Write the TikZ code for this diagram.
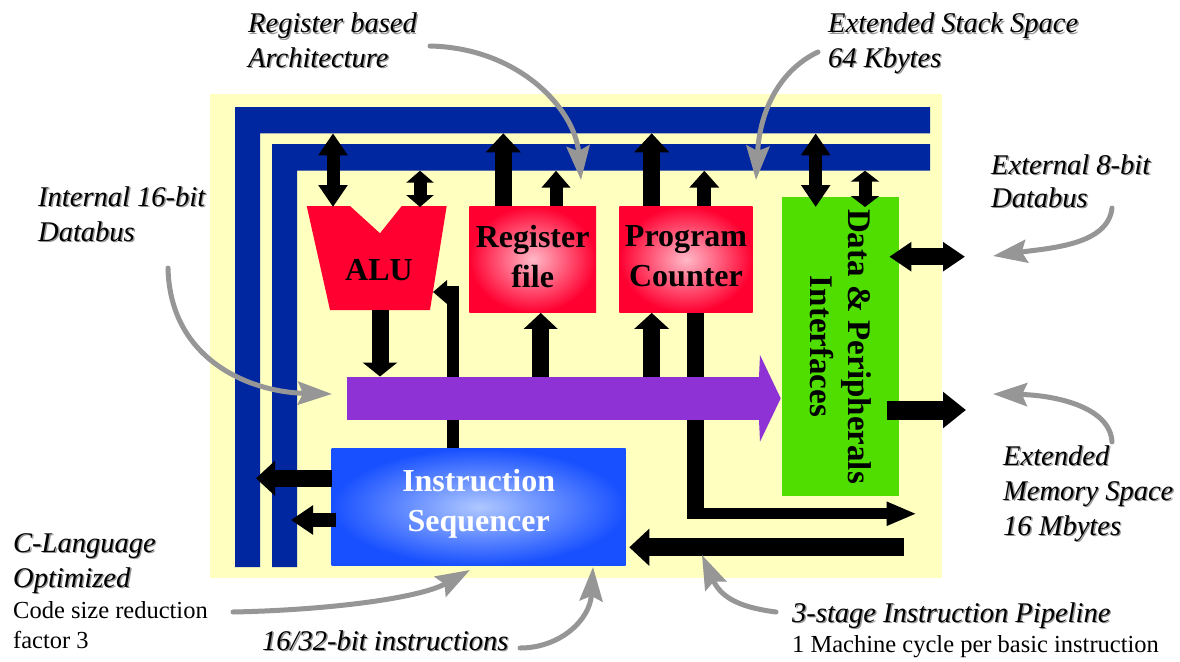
\documentclass[tikz,border=0pt]{standalone}
\usepackage{fontspec}
\setmainfont{Liberation Serif}
\usetikzlibrary{arrows.meta}

\definecolor{busblue}{RGB}{0,38,160}
\definecolor{chipyellow}{RGB}{255,255,192}
\definecolor{alured}{RGB}{255,0,48}
\definecolor{redlight}{RGB}{255,185,200}
\definecolor{iogreen}{RGB}{80,221,0}
\definecolor{buspurple}{RGB}{142,50,214}
\definecolor{seqblue}{RGB}{24,80,255}
\definecolor{seqlight}{RGB}{175,200,255}
\definecolor{callgray}{RGB}{150,150,150}
\definecolor{shadowgray}{RGB}{150,150,150}

% italic callout text with a soft drop shadow
\newcommand\shadowed[1]{\makebox[0pt][l]{\kern1.4pt\raisebox{-1.4pt}{\textcolor{shadowgray}{#1}}}#1}

\begin{document}
\begin{tikzpicture}[x=1pt,y=-1pt,
  arr/.style n args={3}{draw=black, line width=#1, -{Triangle[length=#2,width=#3]}},
  darr/.style n args={3}{draw=black, line width=#1, {Triangle[length=#2,width=#3]}-{Triangle[length=#2,width=#3]}},
  pointer/.style={draw=callgray, line width=5pt, line cap=round, -{Stealth[length=34pt,width=23pt,inset=5pt]}},
  callit/.style={anchor=base west, inner sep=0pt, font=\fontsize{28.5}{34}\selectfont\itshape},
  callrm/.style={anchor=base west, inner sep=0pt, font=\fontsize{24.5}{29}\selectfont},
  blocktext/.style={align=center, inner sep=0pt, font=\fontsize{32}{40}\selectfont\bfseries},
  redblock/.style={rectangle, inner sep=0pt, shading=radial, inner color=redlight, outer color=alured},
]
\useasboundingbox (0,0) rectangle (1180,661);
\fill[white] (0,0) rectangle (1180,661);

% chip area
\fill[chipyellow] (210,94) rectangle (942,578);

% the two address/data buses
\fill[busblue] (235,107) -- (930,107) -- (930,133.3) -- (260,133.3) -- (260,567) -- (235,567) -- cycle;
\fill[busblue] (272,144) -- (930,144) -- (930,170.7) -- (297,170.7) -- (297,567) -- (272,567) -- cycle;
\coordinate (outerbus) at (260,133.3);
\coordinate (innerbus) at (297,170.7);

% functional blocks
\node[redblock, minimum width=126.7pt, minimum height=106.7pt] (reg) at (532.65,259.35) {};
\node[redblock, minimum width=133.4pt, minimum height=106.7pt] (pc) at (686,259.35) {};
\node[rectangle, inner sep=0pt, fill=iogreen, minimum width=116.7pt, minimum height=298.4pt] (io) at (840.65,346.5) {};
\node[rectangle, inner sep=0pt, shading=radial, inner color=seqlight, outer color=seqblue,
      minimum width=294pt, minimum height=117.4pt] (seq) at (478.7,507) {};

% ALU
\fill[alured] (306.7,206) -- (350,206) -- (380,233.3) -- (401.7,206) -- (446.7,206) -- (430,310) -- (330,310) -- cycle;
\coordinate (alutop) at (0,206);
\coordinate (alubot) at (0,310);
\coordinate (iotip) at (0,207);

% lines running under the internal bus
\draw[arr={12pt}{14pt}{23pt}, line join=miter] (seq.north -| 453,0) -- (453,292) -- (433,292);
\draw[black, line width=17pt] (pc.south -| 695,0) -- (695,519.3);
\draw[arr={11pt}{30pt}{22pt}] (695,513.75) -- (916.7,513.75);

% internal 16-bit bus
\node[rectangle, inner sep=0pt, fill=buspurple, minimum width=413.3pt, minimum height=43.3pt] (ibus) at (553.35,398.35) {};
\fill[buspurple] (759,376.7) -- (760,355) -- (780.7,398.35) -- (760,441.7) -- (759,420) -- cycle;

% bus connections
\draw[darr={13pt}{22pt}{28pt}] (outerbus -| 333,0) -- (iotip -| 333,0);
\draw[darr={13pt}{12pt}{27pt}] (innerbus -| 420,0) -- (iotip -| 420,0);
\draw[arr={17pt}{19pt}{34pt}] (reg.north -| 503.3,0) -- (outerbus -| 503.3,0);
\draw[arr={13pt}{17pt}{28pt}] (reg.north -| 556,0) -- (innerbus -| 556,0);
\draw[arr={17pt}{19pt}{34pt}] (pc.north -| 651.7,0) -- (outerbus -| 651.7,0);
\draw[arr={14pt}{17pt}{29pt}] (pc.north -| 704.3,0) -- (innerbus -| 704.3,0);
\draw[darr={13pt}{22pt}{28pt}] (outerbus -| 815.7,0) -- (iotip -| 815.7,0);
\draw[darr={13pt}{11pt}{28pt}] (innerbus -| 865,0) -- (iotip -| 865,0);

% external ports
\coordinate (extdata) at (965,256.7);
\coordinate (extmem) at (966,410);
\draw[darr={17pt}{22pt}{28pt}] (extdata -| 889.3,0) -- (extdata);
\draw[arr={19pt}{23pt}{35pt}] (extmem -| 886.7,0) -- (extmem);

% internal bus connections
\draw[arr={17pt}{14pt}{34pt}] (alubot -| 380,0) -- (ibus.north -| 380,0);
\draw[arr={17pt}{16pt}{33pt}] (ibus.north -| 540.7,0) -- (reg.south -| 540.7,0);
\draw[arr={17pt}{16pt}{34pt}] (ibus.north -| 651.7,0) -- (pc.south -| 651.7,0);

% sequencer connections
\coordinate (pipein) at (904.3,547.3);
\draw[arr={18pt}{20pt}{36pt}] (pipein) -- (pipein -| 629.3,0);
\draw[arr={17pt}{19pt}{34pt}] (seq.west |- 0,478.3) -- (256,478.3);
\draw[arr={14pt}{22pt}{28pt}] (336,520) -- (291,520);

% block labels
\node[blocktext, anchor=base] (alu) at (379,280) {ALU};
\node[blocktext] (regtext) at ([yshift=3pt]reg.center) {Register\\file};
\node[blocktext] (pctext) at ([yshift=3pt]pc.center) {Program\\Counter};
\node[blocktext, font=\fontsize{33}{38}\selectfont\bfseries, rotate=-90] (iotext) at (io.center) {Data \& Peripherals\\Interfaces};
\node[blocktext, text=white] (seqtext) at ([yshift=3pt]seq.center) {Instruction\\Sequencer};

% callouts
\node[callit] (rb1) at (248,33) {\shadowed{Register based}};
\node[callit] (rb2) at (248,67) {\shadowed{Architecture}};
\node[callit] (ss1) at (828,33) {\shadowed{Extended Stack Space}};
\node[callit] (ss2) at (828,67) {\shadowed{64 Kbytes}};
\node[callit] (id1) at (38,206) {\shadowed{Internal 16-bit}};
\node[callit] (id2) at (38,241) {\shadowed{Databus}};
\node[callit] (ed1) at (991,174) {\shadowed{External 8-bit}};
\node[callit] (ed2) at (991,207) {\shadowed{Databus}};
\node[callit] (em1) at (1003,465) {\shadowed{Extended}};
\node[callit] (em2) at (1003,500) {\shadowed{Memory Space}};
\node[callit] (em3) at (1003,535) {\shadowed{16 Mbytes}};
\node[callit] (cl1) at (13,552) {\shadowed{C-Language}};
\node[callit] (cl2) at (13,587) {\shadowed{Optimized}};
\node[callrm] (cl3) at (13,618) {Code size reduction};
\node[callrm] (cl4) at (13,648) {factor 3};
\node[callit] (ins) at (262,650) {\shadowed{16/32-bit instructions}};
\node[callit] (pl1) at (792,622) {\shadowed{3-stage Instruction Pipeline}};
\node[callrm] (pl2) at (792,652) {1 Machine cycle per basic instruction};

% pointer arrows
\coordinate (rbS) at (430,46);    \coordinate (rbE) at (581,180);
\coordinate (ssS) at (818,52);    \coordinate (ssE) at (756,180);
\coordinate (idS) at (168,268);   \coordinate (idE) at (332,394);
\coordinate (edS) at (1112,208);  \coordinate (edE) at (993,256);
\coordinate (emS) at (1112,442);  \coordinate (emE) at (993,394);
\coordinate (clS) at (233,612);   \coordinate (clE) at (470,570);
\coordinate (inS) at (520,648);   \coordinate (inE) at (593,567);
\coordinate (plS) at (776,612);   \coordinate (plE) at (702,555);
\draw[pointer] (rbS) .. controls (520,48) and (575,110) .. (rbE);
\draw[pointer] (ssS) .. controls (780,70) and (760,110) .. (ssE);
\draw[pointer] (idS) .. controls (170,360) and (250,392) .. (idE);
\draw[pointer] (edS) .. controls (1108,245) and (1050,248) .. (edE);
\draw[pointer] (emS) .. controls (1110,405) and (1050,395) .. (emE);
\draw[pointer] (clS) .. controls (330,610) and (420,598) .. (clE);
\draw[pointer] (inS) .. controls (560,648) and (590,620) .. (inE);
\draw[pointer] (plS) .. controls (745,608) and (722,600) .. (plE);
\end{tikzpicture}
\end{document}
